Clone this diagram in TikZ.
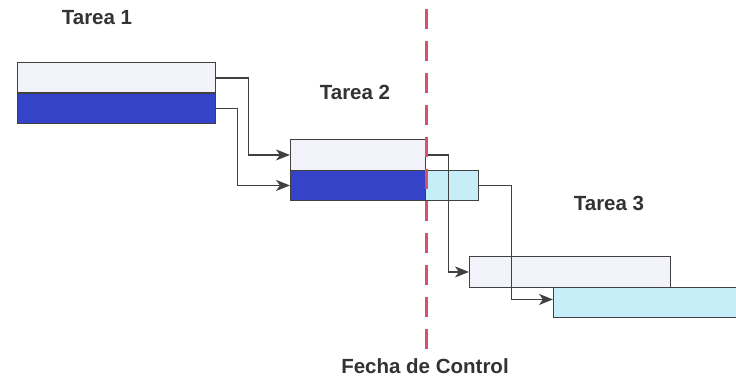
\documentclass[tikz,border=0pt]{standalone}
\usepackage{fontspec}
\setmainfont{Liberation Sans}
\usetikzlibrary{arrows.meta}
\definecolor{barlight}{HTML}{F2F2FA}
\definecolor{barblue}{HTML}{3443C8}
\definecolor{barcyan}{HTML}{C6EEF8}
\definecolor{ctrlred}{HTML}{D9506E}
\definecolor{txtgray}{HTML}{333333}
\begin{document}
\begin{tikzpicture}[x=1pt,y=-1pt,
  bar/.style={draw=black!75,line width=1.4pt,anchor=north west,inner sep=0pt,minimum height=30.5pt},
  conn/.style={draw=black!75,line width=1.6pt,-{Stealth[length=14pt,width=11pt,inset=4pt]}},
  lbl/.style={font=\bfseries\fontsize{20.5}{24}\selectfont,text=txtgray,inner sep=0pt},
  ctrl/.style={draw=ctrlred,line width=3pt,dash pattern=on 20pt off 12pt}]
\useasboundingbox (0,0) rectangle (736,377);
\fill[white] (0,0) rectangle (736,377);
% Tarea 1
\node[lbl] (l1) at (97,18) {Tarea 1};
\node[bar,fill=barlight,minimum width=198pt] (t1a) at (17,62) {};
\node[bar,fill=barblue,minimum width=198pt] (t1b) at (17,92.5) {};
% Tarea 2
\node[lbl] (l2) at (355,92) {Tarea 2};
\node[bar,fill=barlight,minimum width=135pt] (t2a) at (290,139) {};
\node[bar,fill=barblue,minimum width=135pt] (t2b) at (290,169.5) {};
\node[bar,fill=barcyan,minimum width=53pt] (t2c) at (425,169.5) {};
% Tarea 3
\node[lbl] (l3) at (609,203) {Tarea 3};
\node[bar,fill=barlight,minimum width=201pt] (t3a) at (469,256) {};
\begin{scope}
\clip (0,0) rectangle (736,377);
\node[bar,fill=barcyan,minimum width=190pt] (t3b) at (553,286.5) {};
\end{scope}
% connectors
\draw[conn] (t1a.east) -- ++(32,0) |- (t2a.west);
\draw[conn] (t1b.east) -- ++(21,0) |- (t2b.west);
\draw[conn] (t2a.east) -- ++(22,0) |- (t3a.west);
\draw[conn] (t2c.east) -- ++(32,0) |- ([yshift=3pt]t3b.west);
% control date
\coordinate (ctop) at (426,9);
\node[lbl] (fc) at (425,366) {Fecha de Control};
\coordinate (cbot) at (426,352);
\draw[ctrl] (ctop) -- (cbot);
\end{tikzpicture}
\end{document}
